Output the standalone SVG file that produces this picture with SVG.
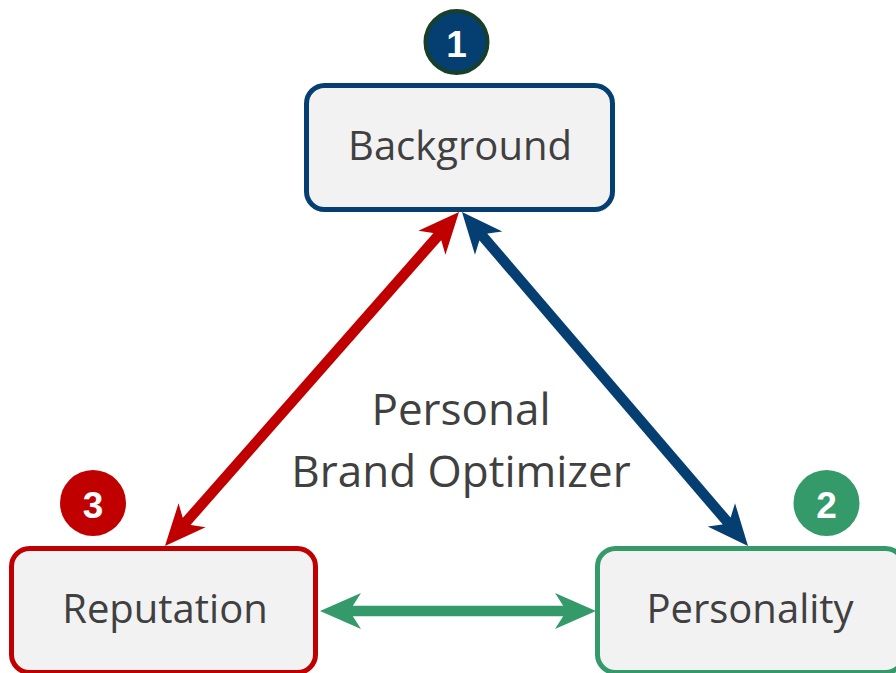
<svg xmlns="http://www.w3.org/2000/svg" width="896" height="673" viewBox="0 0 896 673">
<style>
.box{fill:#f2f2f2;stroke-width:5}
.lbl{font-family:"Open Sans","Liberation Sans",sans-serif;fill:#404040;text-anchor:middle}
.num{font-family:"Liberation Sans",Arial,sans-serif;font-weight:bold;fill:#ffffff;text-anchor:middle;font-size:37px}
.conn{fill:none;stroke-width:10.5}
</style>
<defs>
<marker id="ah-red" markerUnits="userSpaceOnUse" markerWidth="44" markerHeight="44" viewBox="-42 -22 44 44" refX="-30" refY="0" orient="auto-start-reverse" overflow="visible"><path d="M0,0 L-41,-18 L-33,-5.5 L-33,5.5 L-41,18 Z" fill="#c00000"/></marker>
<marker id="ah-blue" markerUnits="userSpaceOnUse" markerWidth="44" markerHeight="44" viewBox="-42 -22 44 44" refX="-30" refY="0" orient="auto-start-reverse" overflow="visible"><path d="M0,0 L-41,-18 L-33,-5.5 L-33,5.5 L-41,18 Z" fill="#053f72"/></marker>
<marker id="ah-green" markerUnits="userSpaceOnUse" markerWidth="44" markerHeight="44" viewBox="-42 -22 44 44" refX="-30" refY="0" orient="auto-start-reverse" overflow="visible"><path d="M0,0 L-41,-18 L-33,-5.5 L-33,5.5 L-41,18 Z" fill="#349a69"/></marker>
</defs>
<rect width="896" height="673" fill="#ffffff"/>
<g id="connectors">
<line class="conn" stroke="#c00000" x1="439.2" y1="234.5" x2="184.8" y2="523.5" marker-start="url(#ah-red)" marker-end="url(#ah-red)"/>
<line class="conn" stroke="#053f72" x1="481.5" y1="234.8" x2="728.5" y2="523.2" marker-start="url(#ah-blue)" marker-end="url(#ah-blue)"/>
<line class="conn" stroke="#349a69" x1="350" y1="611" x2="566" y2="611" marker-start="url(#ah-green)" marker-end="url(#ah-green)"/>
</g>
<g id="background">
<rect class="box" x="306.5" y="85.5" width="306" height="124" rx="18" stroke="#053f72"/>
<text class="lbl" x="460" y="160" font-size="40">Background</text>
</g>
<g id="badge-1">
<circle cx="456.5" cy="42" r="31" fill="#053f72" stroke="#173f2a" stroke-width="4"/>
<text class="num" x="456.5" y="57">1</text>
</g>
<g id="reputation">
<rect class="box" x="11.5" y="548.5" width="304" height="124" rx="18" stroke="#c00000"/>
<text class="lbl" x="165" y="623" font-size="40">Reputation</text>
</g>
<g id="badge-3">
<circle cx="93" cy="503" r="33" fill="#c00000"/>
<text class="num" x="93" y="518">3</text>
</g>
<g id="personality">
<rect class="box" x="597.5" y="548.5" width="306" height="124" rx="18" stroke="#349a69"/>
<text class="lbl" x="750" y="623" font-size="40">Personality</text>
</g>
<g id="badge-2">
<circle cx="826.5" cy="503" r="33" fill="#349a69"/>
<text class="num" x="826.5" y="518">2</text>
</g>
<g id="center-label">
<text class="lbl" x="461" y="425" font-size="44">Personal</text>
<text class="lbl" x="461" y="487" font-size="44">Brand Optimizer</text>
</g>
</svg>
